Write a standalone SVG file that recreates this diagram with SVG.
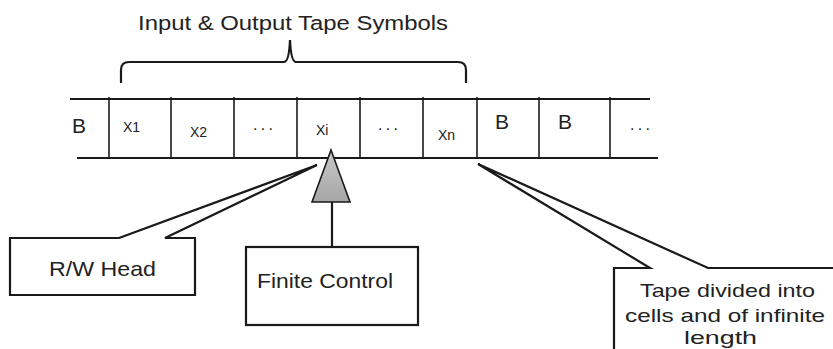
<svg xmlns="http://www.w3.org/2000/svg" width="833" height="349" viewBox="0 0 833 349">
  <defs>
    <linearGradient id="headFill" x1="0" y1="0" x2="0" y2="1">
      <stop offset="0" stop-color="#c8c8c8"/>
      <stop offset="1" stop-color="#a6a6a6"/>
    </linearGradient>
  </defs>
  <style>
    .lbl { font-family: "Liberation Sans", Arial, sans-serif; fill: #222; }
    .big { font-size: 20px; }
    .sym { font-size: 21px; }
    .note { font-size: 19px; }
    .cell { font-size: 14px; }
    .dots { font-size: 16px; }
    .rail { stroke: #1a1a1a; stroke-width: 2.2; fill: none; }
    .div { stroke: #1a1a1a; stroke-width: 1.6; }
    .box { stroke: #1a1a1a; stroke-width: 2.2; fill: #fff; stroke-linejoin: miter; }
    .conn { stroke: #1a1a1a; stroke-width: 2.2; fill: none; }
  </style>
  <rect width="833" height="349" fill="#fff"/>

  <!-- brace over the input/output symbols -->
  <g id="brace">
    <text class="lbl big" x="138" y="30" textLength="310" lengthAdjust="spacingAndGlyphs">Input  &amp; Output Tape Symbols</text>
    <path class="conn" d="M121,83 L121,70 Q121,62 129,62 L284,62 Q289,62 290,40 Q291,62 296,62 L458,62 Q466,62 466,70 L466,83"/>
  </g>

  <!-- the tape -->
  <g id="tape">
    <line class="rail" x1="70" y1="99" x2="650" y2="99"/>
    <line class="rail" x1="77" y1="158" x2="658" y2="158"/>
    <line class="div" x1="109" y1="97" x2="109" y2="158"/>
    <line class="div" x1="171" y1="97" x2="171" y2="158"/>
    <line class="div" x1="234" y1="97" x2="234" y2="158"/>
    <line class="div" x1="297" y1="97" x2="297" y2="158"/>
    <line class="div" x1="360" y1="97" x2="360" y2="158"/>
    <line class="div" x1="423" y1="97" x2="423" y2="158"/>
    <line class="div" x1="477" y1="97" x2="477" y2="158"/>
    <line class="div" x1="539" y1="97" x2="539" y2="158"/>
    <line class="div" x1="610" y1="97" x2="610" y2="158"/>
    <text class="lbl sym" x="72" y="133">B</text>
    <text class="lbl cell" x="123" y="132">X1</text>
    <text class="lbl cell" x="190" y="137">X2</text>
    <text class="lbl dots" x="253" y="130" textLength="20" lengthAdjust="spacing">. . .</text>
    <text class="lbl cell" x="316" y="135">Xi</text>
    <text class="lbl dots" x="378" y="130" textLength="20" lengthAdjust="spacing">. . .</text>
    <text class="lbl cell" x="438" y="140">Xn</text>
    <text class="lbl sym" x="495" y="129">B</text>
    <text class="lbl sym" x="558" y="129">B</text>
    <text class="lbl dots" x="630" y="130" textLength="20" lengthAdjust="spacing">. . .</text>
  </g>

  <!-- read/write head -->
  <g id="head">
    <polygon points="331,150 312,202 350,202" fill="url(#headFill)" stroke="#1a1a1a" stroke-width="1.6"/>
  </g>

  <!-- callouts and connectors -->
  <g id="connectors">
    <line class="conn" x1="332" y1="202" x2="332" y2="247"/>
  </g>

  <g id="rw-head">
    <path class="box" d="M119,238 L317,165 L165,238 L195,238 L195,295 L10,295 L10,238 Z"/>
    <text class="lbl sym" x="49" y="276" textLength="107" lengthAdjust="spacingAndGlyphs">R/W Head</text>
  </g>

  <g id="finite-control">
    <rect class="box" x="246" y="247" width="172" height="78"/>
    <text class="lbl sym" x="257" y="288" textLength="136" lengthAdjust="spacingAndGlyphs">Finite Control</text>
  </g>

  <g id="tape-note">
    <path class="box" d="M650,268 L478,164 L708,268 L840,268 L840,360 L614,360 L614,268 Z"/>
    <text class="lbl note" x="640" y="297" textLength="175" lengthAdjust="spacingAndGlyphs">Tape divided into</text>
    <text class="lbl note" x="625" y="322" textLength="200" lengthAdjust="spacingAndGlyphs">cells and of infinite</text>
    <text class="lbl note" x="684" y="344" textLength="73" lengthAdjust="spacingAndGlyphs">length</text>
  </g>
</svg>
